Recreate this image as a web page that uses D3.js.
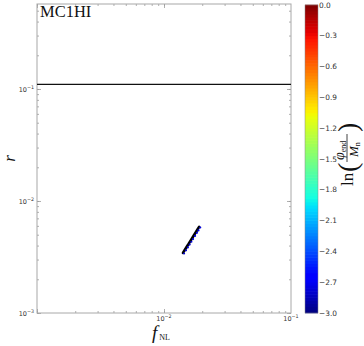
<!DOCTYPE html>
<html>
<head>
<meta charset="utf-8">
<script src="https://cdn.jsdelivr.net/npm/d3@7"></script>
<style>
  html,body{margin:0;padding:0;background:#fff;}
  svg{display:block;}
</style>
</head>
<body>
<svg id="chart" width="364" height="346"></svg>
<script>
// data
const fNL     = [0.0141, 0.0146, 0.0151, 0.0156, 0.0161, 0.0166, 0.0172, 0.0178, 0.0183, 0.0189];
const rVals   = [0.00344, 0.00367, 0.00390, 0.00413, 0.00438, 0.00463, 0.00494, 0.00526, 0.00553, 0.00587];
const lnPhi   = [-2.80, -2.79, -2.78, -2.78, -2.77, -2.76, -2.76, -2.75, -2.75, -2.74];
const rBound  = 0.11;                       // horizontal bound line
const xLabelExps = [-2, -1];
const yLabelExps = [-3, -2, -1];
const cbTicks = [0.0, -0.3, -0.6, -0.9, -1.2, -1.5, -1.8, -2.1, -2.4, -2.7, -3.0];
const xDomain = [1e-3, 1e-1];
const yDomain = [1e-3, 0.574];
const cDomain = [-3, 0];

// jet colormap (matplotlib-like)
function jet(t){
  t = Math.max(0, Math.min(1, t));
  const seg = (pts) => {
    for (let i=1;i<pts.length;i++){
      if (t <= pts[i][0]){
        const [x0,y0] = pts[i-1], [x1,y1] = pts[i];
        return y0 + (y1-y0)*(t-x0)/(x1-x0);
      }
    }
    return pts[pts.length-1][1];
  };
  const r = seg([[0,0],[0.35,0],[0.66,1],[0.89,1],[1,0.5]]);
  const g = seg([[0,0],[0.125,0],[0.375,1],[0.64,1],[0.91,0],[1,0]]);
  const b = seg([[0,0.5],[0.11,1],[0.34,1],[0.65,0],[1,0]]);
  return d3.rgb(r*255, g*255, b*255).toString();
}

const svg = d3.select('#chart');
const m = {left:37, right:291, top:4, bottom:313};

const x = d3.scaleLog().domain(xDomain).range([m.left, m.right]);
const y = d3.scaleLog().domain(yDomain).range([m.bottom, m.top]);
const cNorm = d3.scaleLinear().domain(cDomain).range([0,1]);

// minor tick values
function minors(dom){
  const out = [];
  const lo = Math.floor(Math.log10(dom[0])), hi = Math.ceil(Math.log10(dom[1]));
  for (let e=lo; e<hi; e++) for (let k=1;k<10;k++){
    const v = k*Math.pow(10,e);
    if (v>=dom[0]*0.999 && v<=dom[1]*1.001) out.push(v);
  }
  return out;
}
const xMinor = minors(xDomain), yMinor = minors(yDomain);
const xMajor = xMinor.filter(v => Math.abs(Math.log10(v)%1) < 1e-9);
const yMajor = yMinor.filter(v => Math.abs(Math.log10(v)%1) < 1e-9);

const tickCol = '#9a9a9a';
function styleAxis(g){
  g.select('.domain').remove();
  g.selectAll('line').attr('stroke', tickCol).attr('stroke-width', 0.8);
  g.selectAll('text').remove();
}
const H = m.bottom;
// ticks on all four sides, pointing inward
[[d3.axisBottom, H, xMinor, 2], [d3.axisBottom, H, xMajor, 4],
 [d3.axisTop, m.top, xMinor, 2], [d3.axisTop, m.top, xMajor, 4]].forEach(([ax, ty, vals, len]) => {
  svg.append('g').attr('transform', `translate(0,${ty})`)
    .call(ax(x).tickValues(vals).tickSize(-len)).call(styleAxis);
});
[[d3.axisLeft, m.left, yMinor, 2], [d3.axisLeft, m.left, yMajor, 4],
 [d3.axisRight, m.right, yMinor, 2], [d3.axisRight, m.right, yMajor, 4]].forEach(([ax, tx, vals, len]) => {
  svg.append('g').attr('transform', `translate(${tx},0)`)
    .call(ax(y).tickValues(vals).tickSize(-len)).call(styleAxis);
});

// frame
svg.append('rect')
  .attr('x', m.left).attr('y', m.top)
  .attr('width', m.right-m.left).attr('height', m.bottom-m.top)
  .attr('fill', 'none').attr('stroke', '#a8a8a8').attr('stroke-width', 1);

// tick labels 10^e
function powLabel(g, e){
  g.append('tspan').text('10');
  g.append('tspan').attr('dy', -3).attr('font-size', 4.8).text('\u2212' + Math.abs(e));
}
xLabelExps.forEach(e => {
  const t = svg.append('text')
    .attr('x', x(Math.pow(10,e))).attr('y', 321)
    .attr('text-anchor', 'middle')
    .attr('font-family', 'DejaVu Sans').attr('font-size', 6.5).attr('fill', '#333');
  powLabel(t, e);
});
yLabelExps.forEach(e => {
  const t = svg.append('text')
    .attr('x', 34).attr('y', y(Math.pow(10,e)) + 3)
    .attr('text-anchor', 'end')
    .attr('font-family', 'DejaVu Sans').attr('font-size', 6.5).attr('fill', '#333');
  powLabel(t, e);
});

// bound line
svg.append('line')
  .attr('x1', m.left).attr('x2', m.right)
  .attr('y1', y(rBound)).attr('y2', y(rBound))
  .attr('stroke', '#111').attr('stroke-width', 1.2);

// points: black edges merge into a thick stroke, coloured faces peek out to the right
const pts = fNL.map((f,i) => ({f, r: rVals[i], c: lnPhi[i]}));
svg.append('path').datum(pts)
  .attr('d', d3.line().x(d => x(d.f)).y(d => y(d.r)))
  .attr('fill', 'none').attr('stroke', '#000').attr('stroke-width', 2.6)
  .attr('stroke-linecap', 'round');
svg.append('g').attr('transform', 'translate(1.1,0.6)')
  .selectAll('circle').data(pts).enter().append('circle')
  .attr('cx', d => x(d.f)).attr('cy', d => y(d.r)).attr('r', 1.1)
  .attr('fill', d => jet(cNorm(d.c)));

// title
svg.append('text').attr('x', 40).attr('y', 17)
  .attr('font-family', 'Liberation Serif, DejaVu Serif, serif').attr('font-size', 16.5)
  .attr('fill', '#111').text('MC1HI');

// axis labels
svg.append('text')
  .attr('transform', `translate(15,${(m.top+m.bottom)/2}) rotate(-90)`)
  .attr('text-anchor', 'middle')
  .attr('font-family', 'Liberation Serif, DejaVu Serif, serif')
  .attr('font-style', 'italic').attr('font-size', 17).attr('fill', '#111')
  .text('r');
const xl = svg.append('text')
  .attr('x', 152).attr('y', 339)
  .attr('font-family', 'Liberation Serif, DejaVu Serif, serif').attr('fill', '#111');
xl.append('tspan').attr('font-style', 'italic').attr('font-size', 19).text('f');
xl.append('tspan').attr('dx', 2).attr('dy', 1).attr('font-size', 8).text('NL');

// colorbar
const cb = {x:305, w:13, top:5, bottom:313};
const cy = d3.scaleLinear().domain(cDomain).range([cb.bottom, cb.top]);
const nBands = 100;
const bands = d3.range(nBands).map(i => cDomain[0] + (i+0.5)*(cDomain[1]-cDomain[0])/nBands);
const bh = (cb.bottom-cb.top)/nBands;
svg.append('g').selectAll('rect').data(bands).enter().append('rect')
  .attr('x', cb.x).attr('width', cb.w)
  .attr('y', d => cy(d) - bh/2 - 0.3).attr('height', bh + 0.6)
  .attr('fill', d => jet(cNorm(d)));
svg.append('rect').attr('x', cb.x).attr('y', cb.top).attr('width', cb.w)
  .attr('height', cb.bottom-cb.top).attr('fill', 'none')
  .attr('stroke', '#888').attr('stroke-width', 0.5);
svg.append('g').selectAll('text').data(cbTicks).enter().append('text')
  .attr('x', cb.x + cb.w + 1).attr('y', d => cy(d) + 2.6)
  .attr('font-family', 'DejaVu Sans').attr('font-size', 7.4).attr('fill', '#333')
  .text(d => d3.format('.1f')(d).replace('-', '\u2212'));

// colorbar label  ln(φ_end / M_n)
const lab = svg.append('g').attr('transform', 'translate(353,150) rotate(-90)')
  .attr('font-family', 'Liberation Serif, DejaVu Serif, serif').attr('fill', '#111');
lab.append('text').attr('x', -36).attr('y', 0).attr('font-size', 17).text('ln');
lab.append('text').attr('x', -22).attr('y', 4).attr('font-size', 28).text('(');
const num = lab.append('text').attr('x', -10).attr('y', -9).attr('font-size', 14);
num.append('tspan').attr('font-style', 'italic').text('\u03c6');
num.append('tspan').attr('dy', 2).attr('font-size', 8).text('end');
lab.append('line').attr('x1', -12).attr('x2', 16).attr('y1', -6).attr('y2', -6)
  .attr('stroke', '#111').attr('stroke-width', 0.8);
const den = lab.append('text').attr('x', -7).attr('y', 5).attr('font-size', 13);
den.append('tspan').attr('font-style', 'italic').text('M');
den.append('tspan').attr('dy', 2).attr('font-size', 8).text('n');
lab.append('text').attr('x', 18).attr('y', 4).attr('font-size', 28).text(')');
</script>
</body>
</html>
